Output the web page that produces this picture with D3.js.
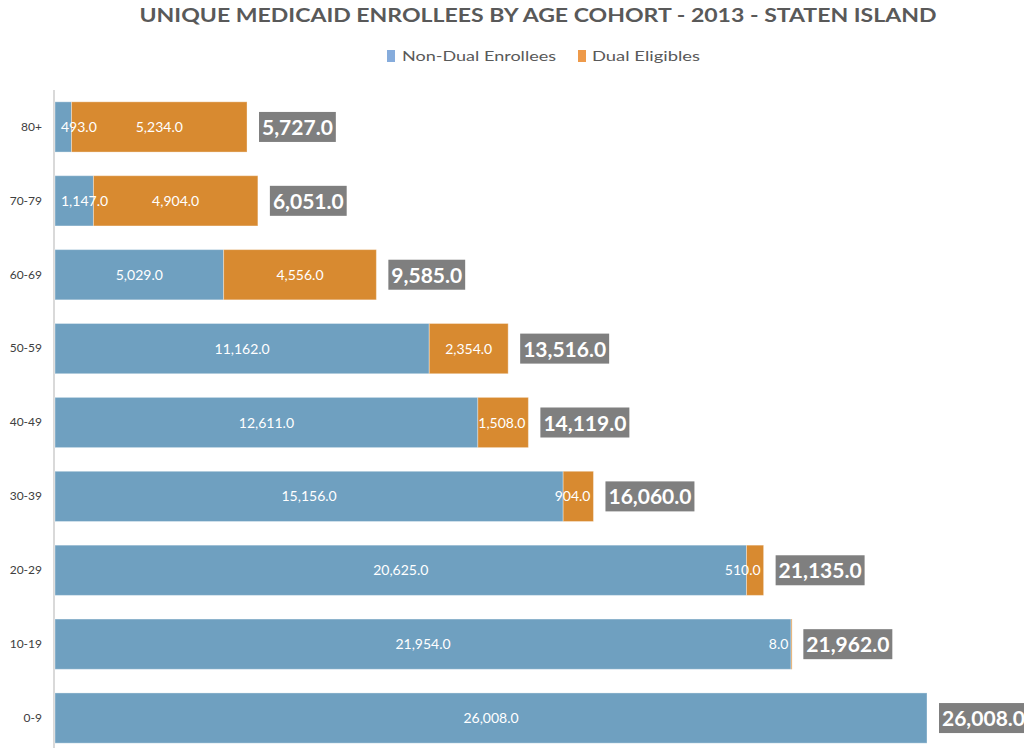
<!DOCTYPE html>
<html><head><meta charset="utf-8">
<script src="https://cdn.jsdelivr.net/npm/d3@7"></script>
<style>
html,body{margin:0;padding:0;background:#fff;}
svg{display:block;font-family:Lato,"Open Sans",sans-serif;}
</style></head>
<body>
<svg id="c" width="1024" height="748"></svg>
<script>
const categories = ["80+","70-79","60-69","50-59","40-49","30-39","20-29","10-19","0-9"];
const nonDual = [493,1147,5029,11162,12611,15156,20625,21954,26008];
const dual = [5234,4904,4556,2354,1508,904,510,8,0];
const seriesNames = ["Non-Dual Enrollees","Dual Eligibles"];
const title = "UNIQUE MEDICAID ENROLLEES BY AGE COHORT - 2013 - STATEN ISLAND";

const svg = d3.select("#c");
const fmt = d3.format(",.1f");
const barCol = ["#6fa0c0","#d88a30"];
const legCol = ["#86acdc","#ee9a4a"];

const totals = categories.map((c,i)=>nonDual[i]+dual[i]);
const x = d3.scaleLinear().domain([0, d3.max(totals)]).range([55, 927]);
const y = d3.scaleBand().domain(categories).range([90, 755]).paddingInner(0.32).paddingOuter(0.16);

// title
svg.append("text").attr("x",538).attr("y",22).attr("text-anchor","middle")
  .attr("font-size",19).attr("font-weight","bold").attr("fill","#595959")
  .attr("textLength",797).attr("lengthAdjust","spacingAndGlyphs").text(title);

// legend
const leg = [{x:387,tx:402,tw:154},{x:578,tx:592,tw:108}];
seriesNames.forEach((n,i)=>{
  svg.append("rect").attr("x",leg[i].x).attr("y",50).attr("width",8).attr("height",12).attr("fill",legCol[i]);
  svg.append("text").attr("x",leg[i].tx).attr("y",61).attr("font-size",14).attr("fill","#595959")
    .attr("textLength",leg[i].tw).attr("lengthAdjust","spacingAndGlyphs").text(n);
});

// axis line
svg.append("line").attr("x1",54).attr("x2",54).attr("y1",90).attr("y2",748)
  .attr("stroke","#d9d9d9").attr("stroke-width",2);

// category labels
const yAxis = d3.axisLeft(y).tickSize(0).tickPadding(0);
const ag = svg.append("g").attr("transform","translate(42,0)").call(yAxis);
ag.select(".domain").remove();
ag.selectAll("text").attr("font-size",12).attr("fill","#404040").attr("font-family","Lato,sans-serif");

// bars
const rows = categories.map((c,i)=>({c, segs:[{s:0,v:nonDual[i],k:0},{s:nonDual[i],v:dual[i],k:1}], total:totals[i]}));
rows.forEach(r=>{
  const g = svg.append("g");
  r.segs.forEach(sg=>{
    if(sg.v<=0) return;
    g.append("rect").attr("x",x(sg.s)).attr("y",y(r.c)).attr("width",Math.max(1,x(sg.s+sg.v)-x(sg.s)))
      .attr("height",y.bandwidth()).attr("fill",barCol[sg.k])
      .attr("stroke","#ffffff").attr("stroke-opacity",0.35).attr("stroke-width",1);
  });
  const barStart = x(0), barEnd = x(r.total);
  r.segs.forEach(sg=>{
    if(sg.v<=0) return;
    const t = g.append("text").attr("y",y(r.c)+y.bandwidth()/2+5).attr("font-size",14)
      .attr("fill","#ffffff").attr("text-anchor","middle").text(fmt(sg.v));
    const w = t.node().getComputedTextLength();
    let cx = (x(sg.s)+x(sg.s+sg.v))/2;
    if(cx-w/2 < barStart+6) cx = barStart+6+w/2;
    if(cx+w/2 > barEnd-3) cx = barEnd-3-w/2;
    t.attr("x",cx);
  });
  // total box
  const bx = barEnd+12;
  const tt = g.append("text").attr("x",bx+3).attr("y",y(r.c)+y.bandwidth()/2+8)
    .attr("font-size",21).attr("font-weight","bold").attr("fill","#ffffff").text(fmt(r.total));
  const tw = tt.node().getComputedTextLength();
  g.insert("rect","text").attr("x",bx).attr("y",y(r.c)+y.bandwidth()/2-15).attr("width",tw+6).attr("height",30)
    .attr("fill","#7f7f7f");
  tt.raise();
});
</script>
</body></html>
